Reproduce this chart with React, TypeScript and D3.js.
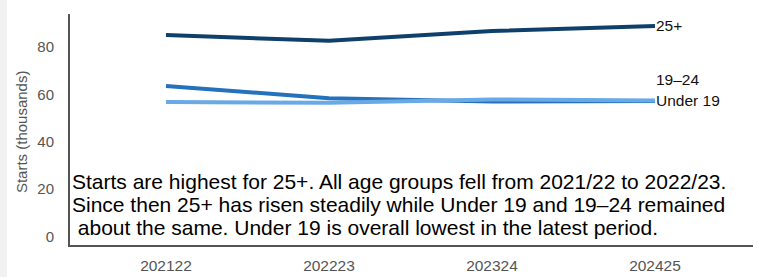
import * as d3 from "d3";

const periods = ["202122", "202223", "202324", "202425"];
const yTicks = [0, 20, 40, 60, 80];

const under19 = [56.8, 56.5, 57.9, 57.5];
const age19to24 = [63.6, 58.4, 57.0, 57.2];
const age25plus = [85.1, 82.7, 86.8, 88.9];

const series = [
  { name: "25+", values: age25plus, color: "#0f406c", labelDy: 0 },
  { name: "19\u201324", values: age19to24, color: "#2471bd", labelDy: -22 },
  { name: "Under 19", values: under19, color: "#68a9e6", labelDy: 0 },
];

const note = [
  "Starts are highest for 25+. All age groups fell from 2021/22 to 2022/23.",
  "Since then 25+ has risen steadily while Under 19 and 19\u201324 remained",
  " about the same. Under 19 is overall lowest in the latest period.",
];

const width = 758;
const height = 277;
const font = "'Liberation Sans', Arial, sans-serif";

export default function App() {
  const x = d3.scalePoint<string>().domain(periods).range([166, 655]);
  const y = d3.scaleLinear().domain([-4, 94]).range([246, 14]);
  const axisX = 69;

  const line = d3
    .line<number>()
    .x((_, i) => x(periods[i]) as number)
    .y((d) => y(d));

  return (
    <svg
      width={width}
      height={height}
      style={{ position: "absolute", left: 0, top: 0, background: "#fff" }}
      fontFamily={font}
    >
      <rect x={0} y={0} width={7} height={height} fill="#f1f1f1" />

      {/* y tick labels */}
      {yTicks.map((t) => (
        <text
          key={t}
          x={54}
          y={y(t)}
          dy="0.35em"
          textAnchor="end"
          fontSize={15}
          fill="#555"
        >
          {t}
        </text>
      ))}

      <text
        transform={`translate(22,${(y(0) + y(80)) / 2 - 10}) rotate(-90)`}
        dy="0.35em"
        textAnchor="middle"
        fontSize={15}
        fill="#555"
      >
        Starts (thousands)
      </text>

      {/* x tick labels */}
      {periods.map((p) => (
        <text
          key={p}
          x={x(p)}
          y={266}
          dy="0.35em"
          textAnchor="middle"
          fontSize={15.5}
          fill="#555"
        >
          {p}
        </text>
      ))}

      {/* lines */}
      {series.map((s) => (
        <path
          key={s.name}
          d={line(s.values) ?? ""}
          fill="none"
          stroke={s.color}
          strokeWidth={4}
        />
      ))}

      {/* line labels */}
      {series.map((s) => (
        <text
          key={s.name}
          x={656}
          y={y(s.values[s.values.length - 1]) + s.labelDy}
          dy="0.35em"
          fontSize={15.5}
          fill="#111"
        >
          {s.name}
        </text>
      ))}

      {/* axes */}
      <line x1={axisX} x2={axisX} y1={14} y2={246} stroke="#555" strokeWidth={2} />
      <line x1={axisX - 1} x2={753} y1={246} y2={246} stroke="#555" strokeWidth={2} />

      {/* annotation */}
      <text x={72} fontSize={21} fill="#000">
        {note.map((l, i) => (
          <tspan key={i} x={72} y={182 + i * 23} dy="0.35em" style={{ whiteSpace: "pre" }}>
            {l}
          </tspan>
        ))}
      </text>
    </svg>
  );
}
